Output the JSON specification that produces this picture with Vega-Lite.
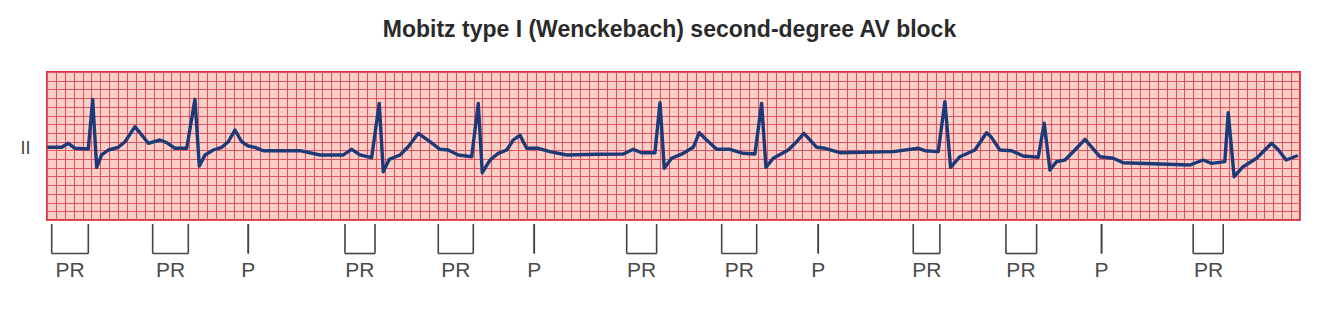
{
  "$schema": "https://vega.github.io/schema/vega-lite/v6.json",
  "width": 1253,
  "height": 148,
  "autosize": {"type": "none"},
  "padding": {"left": 47, "top": 72, "right": 34, "bottom": 91},
  "background": "white",
  "title": {
    "text": "Mobitz type I (Wenckebach) second-degree AV block",
    "font": "Liberation Sans",
    "fontSize": 23,
    "fontWeight": "bold",
    "color": "#2a2a2a",
    "anchor": "middle",
    "baseline": "alphabetic",
    "offset": 12,
    "dx": -4
  },
  "config": {
    "font": "Liberation Sans",
    "view": {"fill": "#fad0c8", "stroke": "#d8323c", "strokeWidth": 2},
    "axisX": {"grid": true, "labels": false, "ticks": false, "domain": false, "title": null, "tickCount": 141, "gridColor": "#e2545f", "gridWidth": 1.1, "gridOpacity": 1},
    "axisY": {"grid": true, "labels": false, "ticks": false, "domain": false, "tickCount": 17, "gridColor": "#e2545f", "gridWidth": 1.1, "gridOpacity": 1}
  },
  "datasets": {
    "ecg": [
      {"t": 0.2, "v": 8.35}, {"t": 1.65, "v": 8.35}, {"t": 2.4, "v": 8.81}, {"t": 3.15, "v": 8.24},
      {"t": 4.65, "v": 8.16}, {"t": 5.14, "v": 13.86}, {"t": 5.59, "v": 6.05}, {"t": 6.15, "v": 7.47},
      {"t": 6.9, "v": 8.04}, {"t": 8.02, "v": 8.35}, {"t": 8.78, "v": 8.99}, {"t": 9.9, "v": 10.72},
      {"t": 10.66, "v": 9.76}, {"t": 11.4, "v": 8.81}, {"t": 12.71, "v": 9.19}, {"t": 13.47, "v": 8.88},
      {"t": 14.4, "v": 8.24}, {"t": 15.72, "v": 8.24}, {"t": 16.65, "v": 13.86}, {"t": 17.14, "v": 6.2},
      {"t": 17.78, "v": 7.47}, {"t": 18.71, "v": 8.04}, {"t": 19.66, "v": 8.35}, {"t": 20.4, "v": 8.99},
      {"t": 21.15, "v": 10.34}, {"t": 21.91, "v": 8.99}, {"t": 22.65, "v": 8.5}, {"t": 23.4, "v": 8.35},
      {"t": 24.34, "v": 7.96}, {"t": 28.47, "v": 7.96}, {"t": 30.72, "v": 7.47}, {"t": 33.34, "v": 7.47},
      {"t": 34.28, "v": 8.12}, {"t": 35.22, "v": 7.47}, {"t": 36.53, "v": 7.16}, {"t": 37.39, "v": 13.4},
      {"t": 37.84, "v": 5.55}, {"t": 38.52, "v": 6.97}, {"t": 39.72, "v": 7.47}, {"t": 40.65, "v": 8.42},
      {"t": 41.78, "v": 9.96}, {"t": 43.09, "v": 8.99}, {"t": 44.22, "v": 8.12}, {"t": 45.15, "v": 8.04},
      {"t": 46.28, "v": 7.47}, {"t": 47.79, "v": 7.27}, {"t": 48.53, "v": 13.4}, {"t": 48.98, "v": 5.43},
      {"t": 49.85, "v": 6.89}, {"t": 50.78, "v": 7.66}, {"t": 51.73, "v": 8.04}, {"t": 52.47, "v": 9.19},
      {"t": 53.22, "v": 9.76}, {"t": 53.59, "v": 8.99}, {"t": 53.98, "v": 8.24}, {"t": 55.28, "v": 8.24},
      {"t": 56.6, "v": 7.85}, {"t": 58.48, "v": 7.47}, {"t": 61.85, "v": 7.55}, {"t": 64.85, "v": 7.58},
      {"t": 65.97, "v": 8.12}, {"t": 66.92, "v": 7.73}, {"t": 68.41, "v": 7.73}, {"t": 68.98, "v": 13.47},
      {"t": 69.46, "v": 5.94}, {"t": 70.29, "v": 7.09}, {"t": 71.6, "v": 7.66}, {"t": 72.72, "v": 8.35},
      {"t": 73.4, "v": 10.03}, {"t": 74.23, "v": 9.19}, {"t": 75.36, "v": 8.12}, {"t": 76.85, "v": 8.12},
      {"t": 78.35, "v": 7.66}, {"t": 79.66, "v": 7.58}, {"t": 80.42, "v": 13.4}, {"t": 80.9, "v": 6.05},
      {"t": 81.72, "v": 7.09}, {"t": 83.41, "v": 8.04}, {"t": 84.36, "v": 8.99}, {"t": 85.18, "v": 9.96},
      {"t": 85.85, "v": 9.19}, {"t": 86.61, "v": 8.35}, {"t": 87.54, "v": 8.24}, {"t": 89.23, "v": 7.73},
      {"t": 95.23, "v": 7.85}, {"t": 98.04, "v": 8.24}, {"t": 98.79, "v": 7.96}, {"t": 100.29, "v": 7.85},
      {"t": 101.04, "v": 13.59}, {"t": 101.68, "v": 6.05}, {"t": 102.73, "v": 7.27}, {"t": 104.42, "v": 8.04},
      {"t": 105.73, "v": 10.03}, {"t": 106.2, "v": 9.6}, {"t": 107.23, "v": 8.04}, {"t": 108.54, "v": 7.96},
      {"t": 109.85, "v": 7.35}, {"t": 111.54, "v": 7.2}, {"t": 112.22, "v": 11.11}, {"t": 112.86, "v": 5.74},
      {"t": 113.61, "v": 6.7}, {"t": 114.55, "v": 6.89}, {"t": 115.67, "v": 8.04}, {"t": 116.8, "v": 9.27},
      {"t": 117.36, "v": 8.61}, {"t": 118.48, "v": 7.27}, {"t": 119.98, "v": 7.09}, {"t": 121.1, "v": 6.58},
      {"t": 128.61, "v": 6.32}, {"t": 130.1, "v": 6.89}, {"t": 131.05, "v": 6.51}, {"t": 132.54, "v": 6.7},
      {"t": 132.92, "v": 12.32}, {"t": 133.59, "v": 4.97}, {"t": 134.6, "v": 6.12}, {"t": 136.11, "v": 7.09},
      {"t": 137.04, "v": 8.04}, {"t": 137.8, "v": 8.81}, {"t": 138.58, "v": 8.04}, {"t": 139.44, "v": 6.89},
      {"t": 140.62, "v": 7.35}
    ],
    "markers": [
      {"from": 0.53, "to": 4.65, "mid": 2.6, "label": "PR"},
      {"from": 11.89, "to": 15.9, "mid": 13.9, "label": "PR"},
      {"from": 22.65, "to": 22.65, "mid": 22.65, "label": "P"},
      {"from": 33.53, "to": 36.91, "mid": 35.2, "label": "PR"},
      {"from": 44.03, "to": 47.97, "mid": 46.0, "label": "PR"},
      {"from": 54.83, "to": 54.83, "mid": 54.83, "label": "P"},
      {"from": 65.23, "to": 68.6, "mid": 66.9, "label": "PR"},
      {"from": 75.92, "to": 79.86, "mid": 77.9, "label": "PR"},
      {"from": 86.79, "to": 86.79, "mid": 86.79, "label": "P"},
      {"from": 97.48, "to": 100.48, "mid": 99.0, "label": "PR"},
      {"from": 107.91, "to": 111.36, "mid": 109.6, "label": "PR"},
      {"from": 118.67, "to": 118.67, "mid": 118.67, "label": "P"},
      {"from": 128.98, "to": 132.36, "mid": 130.7, "label": "PR"}
    ]
  },
  "layer": [
    {
      "data": {"name": "ecg"},
      "mark": {"type": "line", "color": "#1c3a78", "strokeWidth": 3.4, "strokeJoin": "round", "strokeCap": "round"},
      "encoding": {
        "x": {"field": "t", "type": "quantitative", "scale": {"domain": [0, 141], "nice": false, "zero": false}},
        "y": {
          "field": "v", "type": "quantitative",
          "scale": {"domain": [0, 17], "nice": false, "zero": false},
          "title": "II",
          "axis": {"titleAngle": 0, "titleX": -22, "titleY": 76, "titleAlign": "center", "titleBaseline": "middle", "titleFontSize": 18, "titleFontWeight": "normal", "titleColor": "#444444", "titleFont": "Liberation Sans"}
        }
      }
    },
    {
      "data": {"name": "markers"},
      "mark": {"type": "rule", "color": "#444444", "strokeWidth": 1.6},
      "encoding": {
        "x": {"field": "from", "type": "quantitative", "scale": {"domain": [0, 141], "nice": false, "zero": false}},
        "y": {"datum": -0.46, "type": "quantitative", "scale": {"domain": [0, 17], "nice": false, "zero": false}},
        "y2": {"datum": -3.85}
      }
    },
    {
      "data": {"name": "markers"},
      "mark": {"type": "rule", "color": "#444444", "strokeWidth": 1.6},
      "encoding": {
        "x": {"field": "to", "type": "quantitative", "scale": {"domain": [0, 141], "nice": false, "zero": false}},
        "y": {"datum": -0.46, "type": "quantitative", "scale": {"domain": [0, 17], "nice": false, "zero": false}},
        "y2": {"datum": -3.85}
      }
    },
    {
      "data": {"name": "markers"},
      "transform": [{"filter": "datum.label === 'PR'"}],
      "mark": {"type": "rule", "color": "#444444", "strokeWidth": 1.6},
      "encoding": {
        "x": {"field": "from", "type": "quantitative", "scale": {"domain": [0, 141], "nice": false, "zero": false}},
        "x2": {"field": "to"},
        "y": {"datum": -3.85, "type": "quantitative", "scale": {"domain": [0, 17], "nice": false, "zero": false}}
      }
    },
    {
      "data": {"name": "markers"},
      "mark": {"type": "text", "color": "#4a4a4a", "fontSize": 21, "font": "Liberation Sans", "align": "center", "baseline": "middle"},
      "encoding": {
        "x": {"field": "mid", "type": "quantitative", "scale": {"domain": [0, 141], "nice": false, "zero": false}},
        "y": {"datum": -5.86, "type": "quantitative", "scale": {"domain": [0, 17], "nice": false, "zero": false}},
        "text": {"field": "label"}
      }
    }
  ]
}
